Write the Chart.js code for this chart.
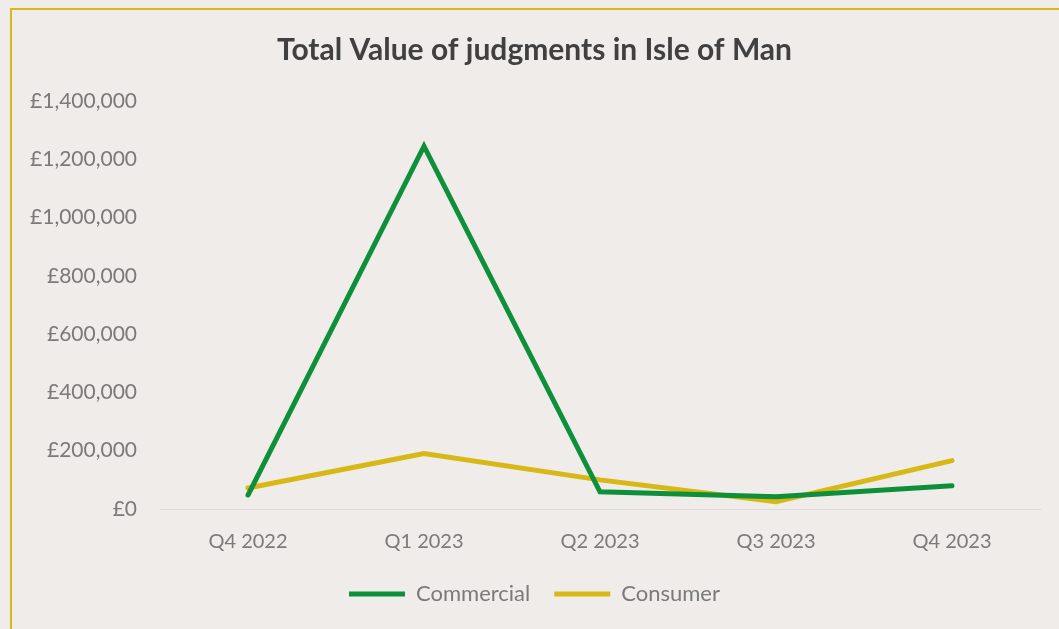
<!DOCTYPE html>
<html>
<head>
<meta charset="utf-8">
<script src="https://cdn.jsdelivr.net/npm/chart.js@4.4.0/dist/chart.umd.min.js"></script>
<style>
    html, body { margin: 0; padding: 0; background: #efecea; overflow: hidden; }
    #frame {
        position: absolute; left: 10px; top: 8px; width: 1100px; height: 700px;
        border: 2px solid #d8b915; box-sizing: border-box;
    }
    #wrap { position: absolute; left: 0; top: 0; width: 1059px; height: 629px; }
</style>
</head>
<body>
<div id="frame"></div>
<div id="wrap"><canvas id="grafico" width="1059" height="629"></canvas></div>
<script>
const quarters = ['Q4 2022', 'Q1 2023', 'Q2 2023', 'Q3 2023', 'Q4 2023'];
const commercial = [48000, 1245000, 59000, 42000, 80000];
const consumer = [72000, 190000, 100000, 25000, 166000];
const yTicks = [0, 200000, 400000, 600000, 800000, 1000000, 1200000, 1400000];

const verde = '#0e8f3a';
const amarelo = '#d7b814';
const cinza = '#7a7a7a';

function formatarLibra(v) {
    return '£' + v.toLocaleString('en-GB');
}

const ctx = document.getElementById('grafico').getContext('2d');
const grafico = new Chart(ctx, {
    type: 'line',
    data: {
        labels: quarters,
        datasets: [{
            label: 'Commercial',
            data: commercial,
            borderColor: verde,
            backgroundColor: verde,
            borderWidth: 5,
            borderCapStyle: 'round',
            borderJoinStyle: 'miter',
            pointRadius: 0,
            pointStyle: 'line',
            tension: 0
        }, {
            label: 'Consumer',
            data: consumer,
            borderColor: amarelo,
            backgroundColor: amarelo,
            borderWidth: 5,
            borderCapStyle: 'round',
            borderJoinStyle: 'miter',
            pointRadius: 0,
            pointStyle: 'line',
            tension: 0
        }]
    },
    options: {
        responsive: false,
        animation: false,
        layout: { padding: { left: 29, right: 19, top: 22, bottom: 14 } },
        plugins: {
            title: {
                display: true,
                text: 'Total Value of judgments in Isle of Man',
                color: '#404040',
                font: { family: 'Lato', size: 30, weight: 'bold' },
                padding: { top: 10, bottom: 33 }
            },
            legend: {
                position: 'bottom',
                labels: {
                    usePointStyle: true,
                    pointStyleWidth: 56,
                    boxHeight: 5,
                    color: cinza,
                    font: { family: 'Lato', size: 22 },
                    padding: 24
                }
            },
            tooltip: { enabled: false }
        },
        scales: {
            x: {
                offset: true,
                afterFit: function (axis) { axis.height = 50; },
                grid: { display: false },
                border: { display: true, color: '#dcdad8', width: 1 },
                ticks: { color: cinza, font: { family: 'Lato', size: 20 }, padding: 13 }
            },
            y: {
                min: 0,
                max: 1400000,
                afterBuildTicks: function (axis) {
                    axis.ticks = yTicks.map(v => ({ value: v }));
                },
                afterFit: function (axis) { axis.width = 131; },
                grid: { display: false, drawTicks: false },
                border: { display: false },
                ticks: {
                    color: cinza,
                    font: { family: 'Lato', size: 21 },
                    padding: 23,
                    callback: v => formatarLibra(v)
                }
            }
        }
    }
});
</script>
</body>
</html>
